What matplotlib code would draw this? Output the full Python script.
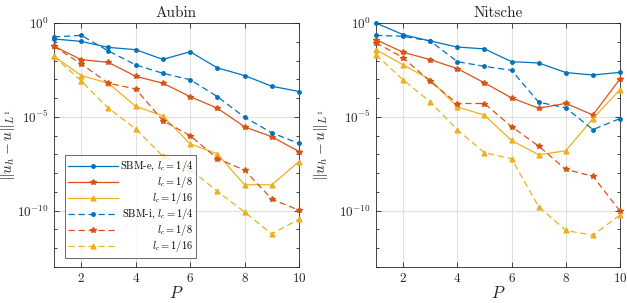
import matplotlib
matplotlib.use("Agg")
import matplotlib.pyplot as plt
import numpy as np
from matplotlib.ticker import NullFormatter, FixedLocator

plt.rcParams.update({
    'font.family': 'serif',
    'font.serif': ['cmr10', 'DejaVu Serif'],
    'mathtext.fontset': 'cm',
    'axes.formatter.use_mathtext': True,
    'font.size': 9,
    'axes.unicode_minus': False,
})

# polynomial degree
P = np.arange(1, 11)

# log10 of the L1 error
# Aubin
aubin_e_4 = [-0.85, -0.98, -1.30, -1.42, -1.94, -1.53, -2.39, -2.80, -3.37, -3.65]
aubin_e_8 = [-1.24, -1.95, -2.10, -2.84, -3.21, -3.92, -4.54, -5.53, -6.06, -6.85]
aubin_e_16 = [-1.78, -2.80, -3.21, -4.44, -4.95, -6.44, -6.97, -8.62, -8.62, -7.38]
aubin_i_4 = [-0.74, -0.66, -1.49, -2.23, -2.68, -3.02, -3.92, -5.02, -5.85, -6.42]
aubin_i_8 = [-1.24, -2.18, -3.21, -3.51, -5.20, -6.00, -7.22, -7.84, -9.38, -9.98]
aubin_i_16 = [-1.78, -3.09, -4.54, -5.64, -7.10, -7.80, -8.97, -10.07, -11.24, -10.45]
# Nitsche
nit_e_4 = [0.0, -0.62, -0.96, -1.28, -1.38, -2.06, -2.13, -2.64, -2.77, -2.63]
nit_e_8 = [-0.89, -1.56, -1.95, -2.43, -3.19, -3.99, -4.54, -4.28, -4.90, -2.98]
nit_e_16 = [-1.42, -2.23, -3.02, -4.47, -4.91, -6.26, -7.02, -6.81, -5.09, -3.55]
nit_i_4 = [-0.66, -0.71, -0.96, -2.06, -2.31, -2.52, -4.22, -4.52, -5.68, -5.09]
nit_i_8 = [-1.05, -1.85, -3.11, -4.29, -4.29, -5.52, -6.56, -7.80, -8.16, -10.02]
nit_i_16 = [-1.69, -3.03, -4.20, -5.69, -6.91, -7.23, -9.79, -11.05, -11.31, -10.23]

labels = ['SBM-e, $l_c = 1/4$', '$l_c = 1/8$', '$l_c = 1/16$',
          'SBM-i, $l_c = 1/4$', '$l_c = 1/8$', '$l_c = 1/16$']

colors = ['#0072BD', '#D95319', '#EDB120']
markers = ['.', '*', '^']
msizes = [5, 4, 3.5]

panels = [
    ('Aubin', [aubin_e_4, aubin_e_8, aubin_e_16], [aubin_i_4, aubin_i_8, aubin_i_16], -0.15),
    ('Nitsche', [nit_e_4, nit_e_8, nit_e_16], [nit_i_4, nit_i_8, nit_i_16], -0.188),
]

fig = plt.figure(figsize=(6.27, 3.03), dpi=100)
ax1 = fig.add_axes([54/627, 1 - 267/303, 245/627, 244/303])
ax2 = fig.add_axes([376/627, 1 - 267/303, 244/627, 244/303])

dark = '#262626'
for ax, (title, expl, impl, ylab_x) in zip([ax1, ax2], panels):
    for i in range(3):
        ax.semilogy(P, 10.0 ** np.array(expl[i]), '-', color=colors[i], marker=markers[i],
                    ms=msizes[i], lw=0.9, clip_on=False, zorder=3)
    for i in range(3):
        ax.semilogy(P, 10.0 ** np.array(impl[i]), '--', color=colors[i], marker=markers[i],
                    ms=msizes[i], lw=0.9, dashes=(5, 3), clip_on=False, zorder=3)
    ax.set_xlim(1, 10)
    ax.set_ylim(1e-13, 1e0)
    ax.set_xticks([2, 4, 6, 8, 10])
    ax.yaxis.set_major_locator(FixedLocator([1e-10, 1e-5, 1e0]))
    ax.yaxis.set_minor_locator(FixedLocator([10.0 ** k for k in range(-13, 1)]))
    ax.yaxis.set_minor_formatter(NullFormatter())
    ax.tick_params(which='both', direction='in', top=True, right=True, colors=dark,
                   labelcolor=dark, width=0.6)
    ax.tick_params(which='major', length=3.5, labelsize=9.5)
    ax.tick_params(which='minor', length=2)
    ax.grid(True, which='major', color='#e0e0e0', lw=0.8)
    ax.set_axisbelow(True)
    for s in ax.spines.values():
        s.set_color(dark)
        s.set_linewidth(0.6)
    ax.set_title(title, fontsize=11, color=dark, pad=4)
    ax.set_xlabel('$P$', fontsize=12, color=dark, labelpad=0)
    ax.set_ylabel(r'$\|u_h - u\|_{L^1}$', fontsize=11, color=dark)
    ax.yaxis.set_label_coords(ylab_x, 0.5)

handles = ax1.get_lines()
leg = ax1.legend(handles, labels, loc='lower left', bbox_to_anchor=(0.035, 0.03),
                 fontsize=7.5, frameon=True, fancybox=False, edgecolor=dark,
                 handlelength=4.8, labelspacing=0.0, borderpad=0.3, handletextpad=0.2,
                 borderaxespad=0.2)
leg.get_frame().set_linewidth(0.6)

# right align the legend texts
fig.canvas.draw()
renderer = fig.canvas.get_renderer()
widths = [t.get_window_extent(renderer).width for t in leg.get_texts()]
wmax = max(widths)
for t, w in zip(leg.get_texts(), widths):
    t.set_position((wmax - w, 0))

fig.savefig('out.png', dpi=100)
